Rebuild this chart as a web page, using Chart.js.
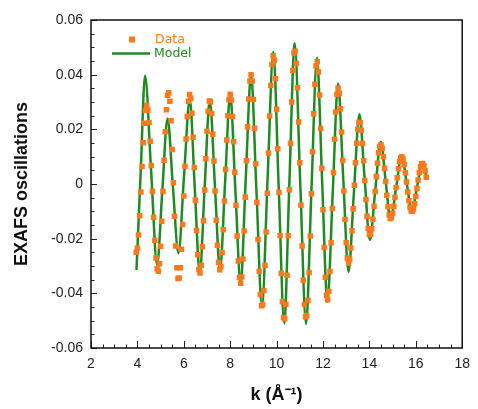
<!DOCTYPE html>
<html>
<head>
<meta charset="utf-8">
<script src="https://cdn.jsdelivr.net/npm/chart.js@4"></script>
<style>
  html, body { margin: 0; padding: 0; background: #fff; }
  canvas { display: block; }
</style>
</head>
<body>
<canvas id="canvas" width="478" height="409"></canvas>
<script>
// measured EXAFS oscillations (orange squares), k in 1/Angstrom
var dataK = [
  3.95, 4.00, 4.05, 4.10, 4.15, 4.20, 4.25, 4.30, 4.35, 4.40,
  4.45, 4.50, 4.55, 4.60, 4.65, 4.70, 4.75, 4.80, 4.85, 4.90,
  4.95, 5.00, 5.05, 5.10, 5.15, 5.20, 5.25, 5.30, 5.35, 5.40,
  5.45, 5.50, 5.55, 5.60, 5.65, 5.70, 5.75, 5.80, 5.85, 5.90,
  5.95, 6.00, 6.05, 6.10, 6.15, 6.20, 6.25, 6.30, 6.35, 6.40,
  6.45, 6.50, 6.55, 6.60, 6.65, 6.70, 6.75, 6.80, 6.85, 6.90,
  6.95, 7.00, 7.05, 7.10, 7.15, 7.20, 7.25, 7.30, 7.35, 7.40,
  7.45, 7.50, 7.55, 7.60, 7.65, 7.70, 7.75, 7.80, 7.85, 7.90,
  7.95, 8.00, 8.05, 8.10, 8.15, 8.20, 8.25, 8.30, 8.35, 8.40,
  8.45, 8.50, 8.55, 8.60, 8.65, 8.70, 8.75, 8.80, 8.85, 8.90,
  8.95, 9.00, 9.05, 9.10, 9.15, 9.20, 9.25, 9.30, 9.35, 9.40,
  9.45, 9.50, 9.55, 9.60, 9.65, 9.70, 9.75, 9.80, 9.85, 9.90,
  9.95, 10.00, 10.05, 10.10, 10.15, 10.20, 10.25, 10.30, 10.35, 10.40,
  10.45, 10.50, 10.55, 10.60, 10.65, 10.70, 10.75, 10.80, 10.85, 10.90,
  10.95, 11.00, 11.05, 11.10, 11.15, 11.20, 11.25, 11.30, 11.35, 11.40,
  11.45, 11.50, 11.55, 11.60, 11.65, 11.70, 11.75, 11.80, 11.85, 11.90,
  11.95, 12.00, 12.05, 12.10, 12.15, 12.20, 12.25, 12.30, 12.35, 12.40,
  12.45, 12.50, 12.55, 12.60, 12.65, 12.70, 12.75, 12.80, 12.85, 12.90,
  12.95, 13.00, 13.05, 13.10, 13.15, 13.20, 13.25, 13.30, 13.35, 13.40,
  13.45, 13.50, 13.55, 13.60, 13.65, 13.70, 13.75, 13.80, 13.85, 13.90,
  13.95, 14.00, 14.05, 14.10, 14.15, 14.20, 14.25, 14.30, 14.35, 14.40,
  14.45, 14.50, 14.55, 14.60, 14.65, 14.70, 14.75, 14.80, 14.85, 14.90,
  14.95, 15.00, 15.05, 15.10, 15.15, 15.20, 15.25, 15.30, 15.35, 15.40,
  15.45, 15.50, 15.55, 15.60, 15.65, 15.70, 15.75, 15.80, 15.85, 15.90,
  15.95, 16.00, 16.05, 16.10, 16.15, 16.20, 16.25, 16.30, 16.35, 16.40,
  16.45
]
var dataChi = [
  -0.0250, -0.0234, -0.0187, -0.0116, -0.0029, 0.0064, 0.0151, 0.0222, 0.0269, 0.0288,
  0.0270, 0.0225, 0.0156, 0.0068, -0.0027, -0.0122, -0.0206, -0.0271, -0.0310, -0.0319,
  -0.0292, -0.0228, -0.0136, -0.0027, 0.0087, 0.0191, 0.0272, 0.0325, 0.0334, 0.0303,
  0.0231, 0.0126, 0.0005, -0.0118, -0.0227, -0.0306, -0.0346, -0.0344, -0.0306, -0.0239,
  -0.0148, -0.0044, 0.0065, 0.0165, 0.0247, 0.0303, 0.0327, 0.0314, 0.0259, 0.0171,
  0.0060, -0.0059, -0.0170, -0.0259, -0.0313, -0.0326, -0.0297, -0.0230, -0.0134, -0.0022,
  0.0092, 0.0193, 0.0266, 0.0304, 0.0300, 0.0258, 0.0182, 0.0084, -0.0026, -0.0133,
  -0.0224, -0.0287, -0.0314, -0.0302, -0.0251, -0.0167, -0.0062, 0.0053, 0.0161, 0.0250,
  0.0308, 0.0328, 0.0307, 0.0247, 0.0155, 0.0043, -0.0078, -0.0190, -0.0282, -0.0342,
  -0.0363, -0.0340, -0.0274, -0.0172, -0.0048, 0.0085, 0.0209, 0.0311, 0.0377, 0.0400,
  0.0377, 0.0309, 0.0204, 0.0074, -0.0067, -0.0203, -0.0319, -0.0404, -0.0445, -0.0441,
  -0.0390, -0.0298, -0.0176, -0.0034, 0.0113, 0.0249, 0.0360, 0.0437, 0.0469, 0.0453,
  0.0385, 0.0273, 0.0129, -0.0030, -0.0188, -0.0327, -0.0431, -0.0488, -0.0493, -0.0440,
  -0.0334, -0.0189, -0.0021, 0.0149, 0.0300, 0.0415, 0.0479, 0.0486, 0.0441, 0.0352,
  0.0227, 0.0078, -0.0078, -0.0227, -0.0352, -0.0441, -0.0486, -0.0481, -0.0425, -0.0324,
  -0.0190, -0.0036, 0.0118, 0.0257, 0.0365, 0.0432, 0.0447, 0.0410, 0.0326, 0.0203,
  0.0058, -0.0094, -0.0232, -0.0341, -0.0407, -0.0423, -0.0392, -0.0320, -0.0215, -0.0090,
  0.0042, 0.0164, 0.0263, 0.0328, 0.0350, 0.0331, 0.0275, 0.0190, 0.0086, -0.0026,
  -0.0130, -0.0215, -0.0271, -0.0290, -0.0276, -0.0234, -0.0171, -0.0091, -0.0005, 0.0078,
  0.0149, 0.0200, 0.0226, 0.0224, 0.0197, 0.0148, 0.0085, 0.0013, -0.0057, -0.0118,
  -0.0163, -0.0185, -0.0184, -0.0164, -0.0129, -0.0081, -0.0027, 0.0027, 0.0076, 0.0114,
  0.0137, 0.0143, 0.0130, 0.0100, 0.0058, 0.0009, -0.0041, -0.0083, -0.0113, -0.0126,
  -0.0122, -0.0107, -0.0082, -0.0049, -0.0013, 0.0023, 0.0056, 0.0081, 0.0096, 0.0100,
  0.0091, 0.0071, 0.0041, 0.0007, -0.0029, -0.0061, -0.0085, -0.0099, -0.0100, -0.0091,
  -0.0072, -0.0046, -0.0016, 0.0015, 0.0042, 0.0063, 0.0074, 0.0075, 0.0066, 0.0048,
  0.0025
]

// fitted model (green line): turning points and zero crossings
var modelK = [
  3.96, 4.14, 4.33, 4.59, 4.85, 5.07, 5.30, 5.53, 5.77, 6.01,
  6.26, 6.47, 6.69, 6.90, 7.12, 7.34, 7.56, 7.78, 8.00, 8.22,
  8.45, 8.67, 8.90, 9.13, 9.37, 9.61, 9.86, 10.09, 10.33, 10.55,
  10.78, 11.02, 11.27, 11.50, 11.74, 11.96, 12.19, 12.42, 12.65, 12.87,
  13.10, 13.33, 13.57, 13.79, 14.02, 14.25, 14.49, 14.70, 14.91, 15.15,
  15.39, 15.61, 15.83, 16.05, 16.28, 16.49
]
var modelChi = [
  -0.0315, 0.0040, 0.0396, 0.0050, -0.0296, -0.0030, 0.0240, -0.0010, -0.0253, 0.0030,
  0.0310, -0.0010, -0.0326, -0.0010, 0.0307, -0.0004, -0.0315, 0.0007, 0.0328, -0.0017,
  -0.0362, 0.0020, 0.0401, -0.0024, -0.0449, 0.0017, 0.0484, -0.0012, -0.0509, 0.0003,
  0.0515, 0.0000, -0.0512, -0.0025, 0.0462, 0.0015, -0.0431, -0.0030, 0.0368, 0.0024,
  -0.0321, -0.0033, 0.0255, 0.0025, -0.0205, -0.0025, 0.0155, 0.0012, -0.0132, -0.0014,
  0.0104, 0.0002, -0.0101, -0.0012, 0.0076, 0.0015
]

// axis ticks
var xTicks = [2, 4, 6, 8, 10, 12, 14, 16, 18]
var yTicks = [-0.06, -0.04, -0.02, 0, 0.02, 0.04, 0.06]
var yTickLabels = ['-0.06', '-0.04', '-0.02', '0', '0.02', '0.04', '0.06']

var orange = '#f87a1d'
var green = '#1f8a22'

// pair the k and chi arrays into {x, y} points for chart.js
function points(ks, vals) {
    var out = []
    for (var i = 0; i < ks.length; i++) out.push({ x: ks[i], y: vals[i] })
    return out
}

// box around the plot with small inward ticks, like the original plotting program
var frameTicks = {
    id: 'frameTicks',
    afterDraw: function (chart) {
        var ctx = chart.ctx, a = chart.chartArea
        var sx = chart.scales.x, sy = chart.scales.y
        ctx.save()
        ctx.strokeStyle = '#222'
        ctx.lineWidth = 1
        ctx.beginPath()
        // x minor ticks every 0.5, majors every 2
        for (var v = 2; v <= 18.001; v += 0.5) {
            var px = Math.round(sx.getPixelForValue(v)) + 0.5
            var len = (xTicks.indexOf(Math.round(v * 10) / 10) >= 0) ? 7 : 3.5
            ctx.moveTo(px, a.bottom)
            ctx.lineTo(px, a.bottom - len)
        }
        // y minor ticks every 0.005, majors every 0.02
        for (var j = -12; j <= 12; j++) {
            var py = Math.round(sy.getPixelForValue(j * 0.005)) + 0.5
            var l2 = (j % 4 === 0) ? 6 : 3.5
            ctx.moveTo(a.left, py)
            ctx.lineTo(a.left + l2, py)
        }
        ctx.stroke()
        ctx.lineWidth = 1.5
        ctx.strokeStyle = '#111'
        ctx.strokeRect(a.left, a.top, a.right - a.left, a.bottom - a.top)
        ctx.restore()
    }
}

// legend sits inside the plot, top left
var insideLegend = {
    id: 'insideLegend',
    afterDraw: function (chart) {
        var ctx = chart.ctx, a = chart.chartArea
        ctx.save()
        ctx.font = '12.5px "DejaVu Sans"'
        ctx.textBaseline = 'middle'
        ctx.fillStyle = orange
        ctx.fillRect(a.left + 38, a.top + 16.5, 6, 6)
        ctx.fillText('Data', a.left + 64, a.top + 20)
        ctx.strokeStyle = green
        ctx.lineWidth = 2.5
        ctx.beginPath()
        ctx.moveTo(a.left + 21, a.top + 33.5)
        ctx.lineTo(a.left + 59, a.top + 33.5)
        ctx.stroke()
        ctx.fillStyle = green
        ctx.fillText('Model', a.left + 63, a.top + 34)
        ctx.restore()
    }
}

var tickFont = { family: '"Liberation Sans", Arial, sans-serif', size: 14 }
var titleFont = { family: '"Liberation Sans", Arial, sans-serif', size: 18, weight: 'bold' }

var config = {
    type: 'line',
    data: {
        datasets: [
            {
                label: 'Data',
                data: points(dataK, dataChi),
                showLine: false,
                pointStyle: 'rect',
                pointRadius: 3.9,
                pointBorderWidth: 0,
                pointBackgroundColor: orange,
                pointBorderColor: orange
            },
            {
                label: 'Model',
                data: points(modelK, modelChi),
                borderColor: green,
                borderWidth: 2.5,
                pointRadius: 0,
                fill: false,
                cubicInterpolationMode: 'monotone'
            }
        ]
    },
    options: {
        responsive: false,
        animation: false,
        devicePixelRatio: 1,
        layout: { padding: { left: 0, right: 8, top: 20, bottom: 0 } },
        plugins: { legend: { display: false }, tooltip: { enabled: false } },
        scales: {
            x: {
                type: 'linear',
                min: 2, max: 18,
                afterBuildTicks: function (s) { s.ticks = xTicks.map(function (v) { return { value: v } }) },
                afterFit: function (s) { s.height = 61 },
                grid: { display: false, drawTicks: false },
                border: { display: false },
                ticks: { padding: 8, color: '#222', font: tickFont, maxRotation: 0 },
                title: { display: true, text: 'k (Å⁻¹)', color: '#111', font: titleFont, padding: { top: 0, bottom: 3 } }
            },
            y: {
                type: 'linear',
                min: -0.06, max: 0.06,
                afterBuildTicks: function (s) { s.ticks = yTicks.map(function (v) { return { value: v } }) },
                afterFit: function (s) { s.width = 91 },
                grid: { display: false, drawTicks: false },
                border: { display: false },
                ticks: {
                    padding: 8, color: '#222', font: tickFont,
                    callback: function (value) { return yTickLabels[yTicks.indexOf(value)] }
                },
                title: { display: true, text: 'EXAFS oscillations', color: '#111', font: titleFont, padding: { top: 11, bottom: 0 } }
            }
        }
    },
    plugins: [frameTicks, insideLegend]
}

var myChart = new Chart(document.getElementById('canvas'), config)
</script>
</body>
</html>
